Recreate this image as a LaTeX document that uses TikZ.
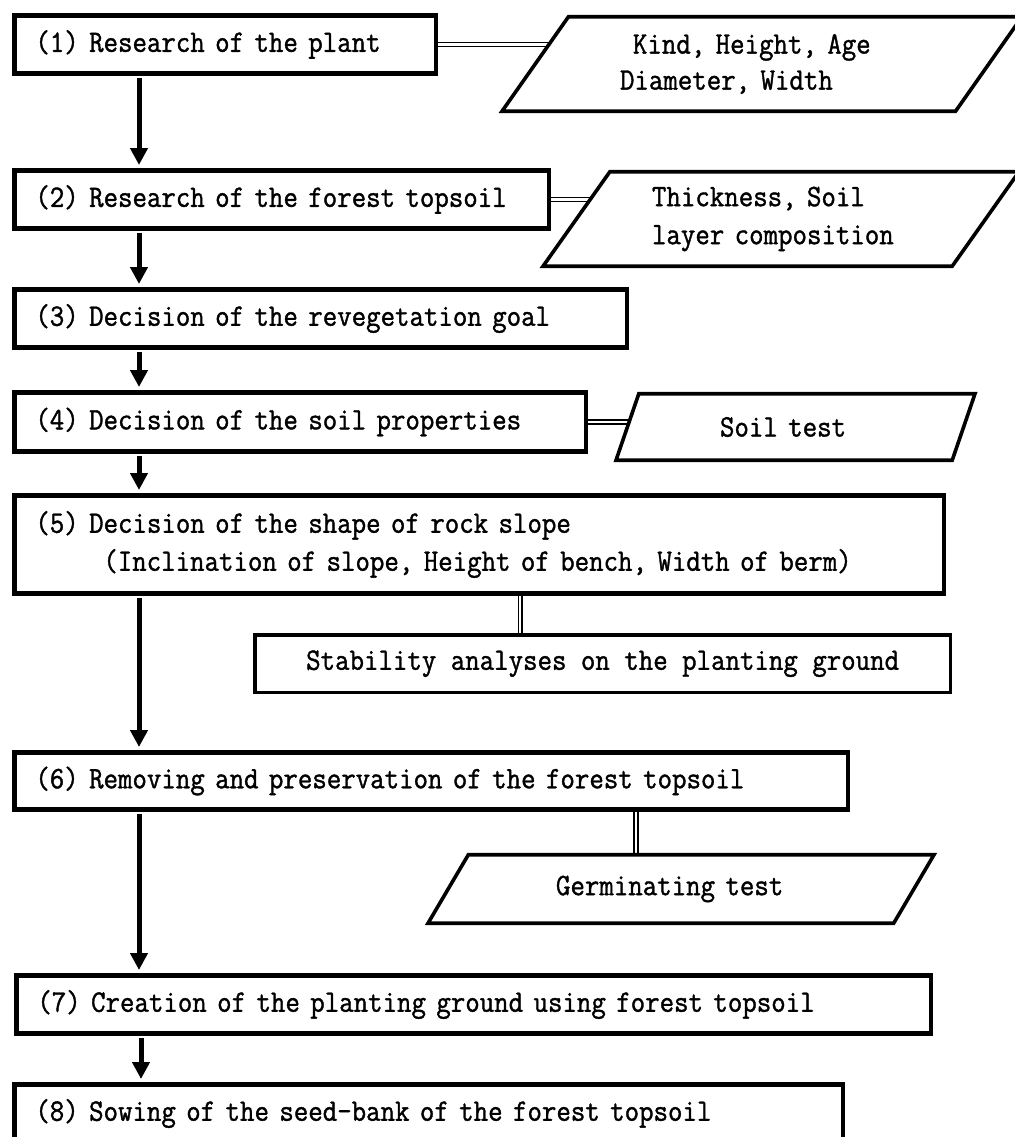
\documentclass[tikz,border=0pt]{standalone}
\usepackage{fontspec}
\newfontfamily\flowfont{Latin Modern Mono}[FakeStretch=0.9,FakeBold=1.2]
\usetikzlibrary{arrows.meta,shapes.geometric,backgrounds}

\begin{document}
\begin{tikzpicture}[
    x=1pt, y=-1pt,
    every node/.style={font=\flowfont\fontsize{31.2pt}{38pt}\selectfont},
    stepbox/.style={
        rectangle,
        draw=black,
        line width=4.7pt,
        fill=white,
        anchor=north west,
        align=left,
        inner xsep=21pt,
        inner ysep=0pt
    },
    checkbox/.style={
        rectangle,
        draw=black,
        line width=3.8pt,
        fill=white,
        anchor=north west,
        align=center,
        inner sep=0pt
    },
    datain/.style={
        trapezium,
        trapezium stretches body,
        draw=black,
        line width=3.6pt,
        fill=white,
        align=left,
        inner xsep=0pt,
        inner ysep=0pt
    },
    flow/.style={-{Triangle[width=17pt,length=17pt]}, line width=5pt, shorten <=2pt, shorten >=3pt},
    link/.style={double, double distance=2.5pt, line width=1.3pt}
]
\useasboundingbox (0,0) rectangle (1014,1137);

% ==================== Main steps (left column) ====================
\node[stepbox, text width=379.5pt, minimum height=58.3pt] (plant)    at (12,13)   {(1) Research of the plant};
\node[stepbox, text width=492.5pt, minimum height=58.3pt] (topsoil)  at (12,168)  {(2) Research of the forest topsoil};
\node[stepbox, text width=570.5pt, minimum height=58.3pt] (goal)     at (12,287)  {(3) Decision of the revegetation goal};
\node[stepbox, text width=529.5pt, minimum height=59.3pt] (soilprop) at (12,390)  {(4) Decision of the soil properties};
\node[stepbox, text width=887.5pt, minimum height=98.3pt] (shape)    at (12,493)  {%
  (5) Decision of the shape of rock slope\\
  \hspace*{68pt}(Inclination of slope, Height of bench, Width of berm)};
\node[stepbox, text width=791.5pt, minimum height=57.3pt] (removing) at (12,750)  {(6) Removing and preservation of the forest topsoil};
\node[stepbox, text width=872.5pt, minimum height=58.3pt] (creation) at (14,973)  {(7) Creation of the planting ground using forest topsoil};
\node[stepbox, text width=786.5pt, minimum height=58.3pt] (sowing)   at (12,1082) {(8) Sowing of the seed-bank of the forest topsoil};

\foreach \a/\b in {plant/topsoil, topsoil/goal, goal/soilprop, soilprop/shape,
                   shape/removing, removing/creation, creation/sowing} {
  \draw[flow] ([xshift=127pt]\a.south west) -- ([xshift=127pt]\a.south west |- \b.north);
}

% ==================== Checks and surveys (right side) ====================
\node[datain, trapezium left angle=42, trapezium right angle=138,
      minimum width=520pt, minimum height=94.5pt, text width=284pt] (plantdata) at (762,64) {%
  \hspace*{13pt}Kind, Height, Age\\[-2pt]
  Diameter, Width};
\node[datain, trapezium left angle=44, trapezium right angle=136,
      minimum width=476pt, minimum height=94.5pt, text width=258pt] (topsoildata) at (781,219) {%
  Thickness, Soil\\
  layer composition};
\node[datain, trapezium left angle=41, trapezium right angle=139,
      minimum width=359pt, minimum height=66.5pt, text width=151pt] (soiltest) at (795.5,427) {Soil test};
\node[checkbox, minimum width=695.5pt, minimum height=57.5pt] (stability) at (253,633) {%
  Stability analyses on the planting ground};
\node[datain, trapezium left angle=33.4, trapezium right angle=146.6,
      minimum width=506pt, minimum height=68.5pt, text width=250pt] (germtest) at (681,889) {Germinating test};

\coordinate (stablink) at ([xshift=-82.5pt]stability.north);
\coordinate (germlink) at ([xshift=-45pt]germtest.north);

\begin{scope}[on background layer]
  \draw[link] (plant.east)    -- (plant.east -| plantdata.center);
  \draw[link] (topsoil.east)  -- (topsoil.east -| topsoildata.center);
  \draw[link] (soilprop.east) -- (soilprop.east -| soiltest.center);
  \draw[link] (stablink) -- (stablink |- shape.south);
  \draw[link] (germlink) -- (germlink |- removing.south);
\end{scope}

\end{tikzpicture}
\end{document}
